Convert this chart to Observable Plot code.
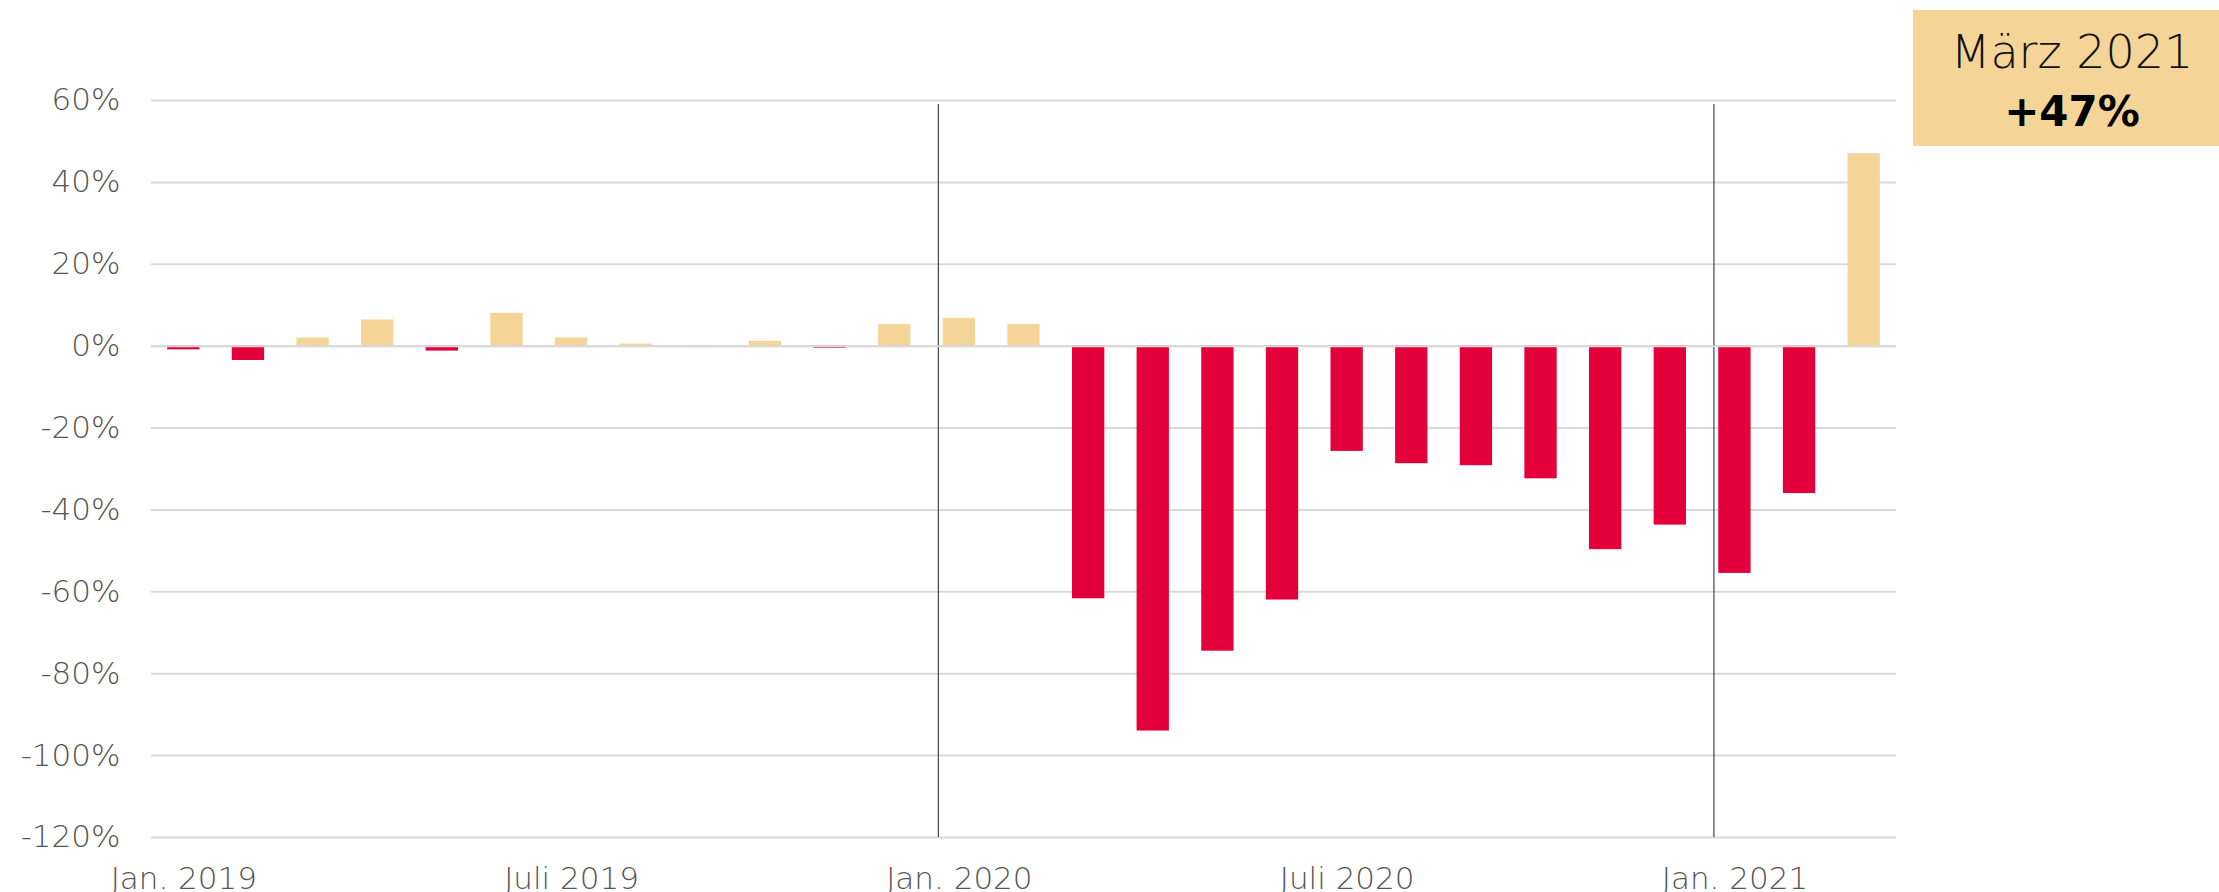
<!DOCTYPE html>
<html>
<head>
<meta charset="utf-8">
<script src="https://cdn.jsdelivr.net/npm/d3@7"></script>
<script src="https://cdn.jsdelivr.net/npm/@observablehq/plot@0.6"></script>
<style>
  html, body { margin: 0; padding: 0; background: #fff; }
  #chart svg { display: block; }
</style>
</head>
<body>
<div id="chart"></div>
<script>
// ---- data ----
const months = [
  "2019-01","2019-02","2019-03","2019-04","2019-05","2019-06","2019-07","2019-08","2019-09","2019-10","2019-11","2019-12",
  "2020-01","2020-02","2020-03","2020-04","2020-05","2020-06","2020-07","2020-08","2020-09","2020-10","2020-11","2020-12",
  "2021-01","2021-02","2021-03"
];
const values = [
  -0.9, -3.5, 2.0, 6.4, -1.2, 8.0, 2.0, 0.5, -0.4, 1.2, -0.5, 5.3,
  6.8, 5.3, -61.7, -94.0, -74.5, -62.0, -25.7, -28.7, -29.2, -32.4, -49.7, -43.7,
  -55.5, -36.0, 47.0
];
const direction = [
  "minus","minus","plus","plus","minus","plus","plus","plus","plus","plus","minus","plus",
  "plus","plus","minus","minus","minus","minus","minus","minus","minus","minus","minus","minus",
  "minus","minus","plus"
];
const tickMonths = ["2019-01","2019-07","2020-01","2020-07","2021-01"];
const tickLabels = ["Jan. 2019","Juli 2019","Jan. 2020","Juli 2020","Jan. 2021"];
const yTicks = [-120, -100, -80, -60, -40, -20, 0, 20, 40, 60];
const yearStarts = ["2020-01","2021-01"];
const calloutLabel = "März 2021";

const RED = "#e4003a";
const YELLOW = "#f4d597";
const FONT = "'DejaVu Sans', sans-serif";

const data = months.map((m, i) => ({month: m, value: values[i], dir: direction[i]}));
const last = data[data.length - 1];
const calloutValue = (last.value > 0 ? "+" : "") + Math.round(last.value) + "%";

function callout(index, scales, vals, dims) {
  const W = dims ? dims.width : 2219;
  const g = d3.create("svg:g");
  const bx = W - 306, by = 10, bw = 306, bh = 136;
  g.append("rect").attr("x", bx).attr("y", by).attr("width", bw).attr("height", bh).attr("fill", YELLOW);
  const cx = bx + bw / 2 + 6;
  g.append("text").attr("x", cx).attr("y", 68).attr("text-anchor", "middle")
    .attr("font-family", FONT).attr("font-weight", 200).attr("font-size", 46).attr("fill", "#111")
    .text(calloutLabel);
  g.append("text").attr("x", cx).attr("y", 126).attr("text-anchor", "middle")
    .attr("font-family", FONT).attr("font-weight", 700).attr("font-size", 42).attr("fill", "#000")
    .text(calloutValue);
  return g.node();
}

const chart = Plot.plot({
  width: 2219,
  height: 892,
  marginLeft: 151,
  marginRight: 323,
  marginTop: 100,
  marginBottom: 55,
  style: {fontFamily: FONT, fontSize: "31px", fontWeight: 200, color: "#555", background: "#fff", overflow: "visible"},
  x: {
    type: "band",
    domain: months,
    paddingInner: 0.5,
    paddingOuter: 0.25,
    round: false,
    label: null,
    ticks: tickMonths,
    tickFormat: d => tickLabels[tickMonths.indexOf(d)],
    tickSize: 0,
    tickPadding: 29
  },
  y: {
    domain: [-120, 60],
    ticks: yTicks,
    tickFormat: d => `${d}%`,
    label: null,
    tickSize: 0,
    tickPadding: 31
  },
  marks: [
    Plot.ruleY(yTicks, {stroke: "#d9d9d9", strokeWidth: 2}),
    Plot.ruleX(yearStarts, {x: d => d, y1: -120, y2: 59, stroke: "#444", strokeWidth: 1.2, dx: -21}),
    Plot.barY(data, {x: "month", y: "value", fill: d => d.dir === "plus" ? YELLOW : RED}),
    Plot.ruleY([0], {stroke: "#d9d9d9", strokeWidth: 2}),
    callout
  ]
});

document.getElementById("chart").appendChild(chart);
</script>
</body>
</html>
